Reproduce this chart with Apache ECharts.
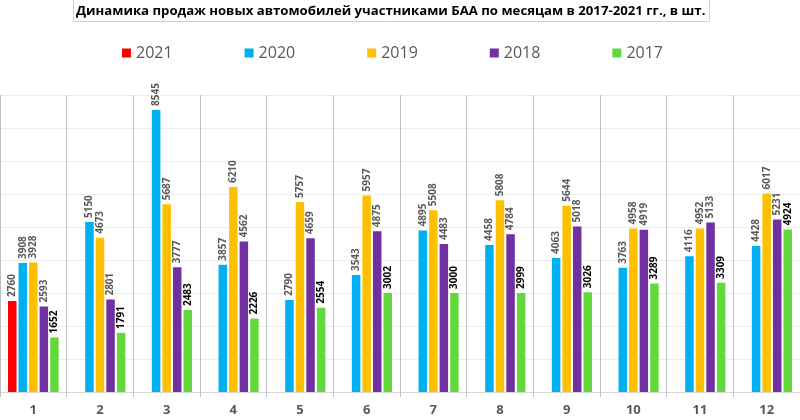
<!DOCTYPE html>
<html><head><meta charset="utf-8">
<script src="https://cdn.jsdelivr.net/npm/echarts@6/dist/echarts.min.js"></script>
<style>html,body{margin:0;padding:0;background:#fff}#c{width:800px;height:420px}</style>
</head><body><div id="c"></div>
<script>
var months = ['1','2','3','4','5','6','7','8','9','10','11','12'];
var seriesNames = ['2021','2020','2019','2018','2017'];
var v2021 = [2760,null,null,null,null,null,null,null,null,null,null,null];
var v2020 = [3908,5150,8545,3857,2790,3543,4895,4458,4063,3763,4116,4428];
var v2019 = [3928,4673,5687,6210,5757,5957,5508,5808,5644,4958,4952,6017];
var v2018 = [2593,2801,3777,4562,4659,4875,4483,4784,5018,4919,5133,5231];
var v2017 = [1652,1791,2483,2226,2554,3002,3000,2999,3026,3289,3309,4924];
var colors = ['#ff0000','#00b0f0','#ffc000','#7030a0','#62d83a'];
var values = [v2021,v2020,v2019,v2018,v2017];

var chart = echarts.init(document.getElementById('c'));
var font = '"Open Sans", "Liberation Sans", sans-serif';
chart.setOption({
  animation:false,
  textStyle:{fontFamily:font},
  title:{
    text:'Динамика продаж новых автомобилей участниками БАА по месяцам в 2017-2021 гг., в шт.',
    left:73, top:-4,
    padding:[9,4,4,3],
    borderColor:'#d0d0d0', borderWidth:1,
    textStyle:{fontFamily:font,fontSize:13.2,fontWeight:'bold',color:'#000'}
  },
  legend:{
    data:seriesNames, left:117, top:40,
    itemWidth:9, itemHeight:9, itemGap:72,
    icon:'rect',
    textStyle:{fontFamily:font,fontSize:16,color:'#595959'}
  },
  grid:{left:-4,right:-7,top:95,bottom:28,containLabel:false},
  xAxis:{
    type:'category', data:months,
    axisLine:{lineStyle:{color:'#d9d9d9'}},
    axisTick:{show:true,length:5,lineStyle:{color:'#bfbfbf'}},
    splitLine:{show:true,lineStyle:{color:'#bfbfbf',width:1}},
    axisLabel:{fontFamily:font,fontSize:13,color:'#595959',fontWeight:'bold',margin:12}
  },
  yAxis:{
    type:'value', min:0, max:9000, interval:1000,
    axisLabel:{show:false}, axisLine:{show:false}, axisTick:{show:false},
    splitLine:{lineStyle:{color:'#ececec'}}
  },
  series: seriesNames.map(function(n,i){
    return {
      name:n, type:'bar', data:values[i],
      barWidth:8.5, barGap:'24%',
      itemStyle:{color:colors[i]},
      label:{
        show:true, position:'top', rotate:90, align:'left', verticalAlign:'middle', distance:4,
        fontFamily:font, fontSize:10, fontWeight:'bold',
        color: i===4 ? '#000' : '#595959'
      }
    };
  })
});
</script></body></html>
